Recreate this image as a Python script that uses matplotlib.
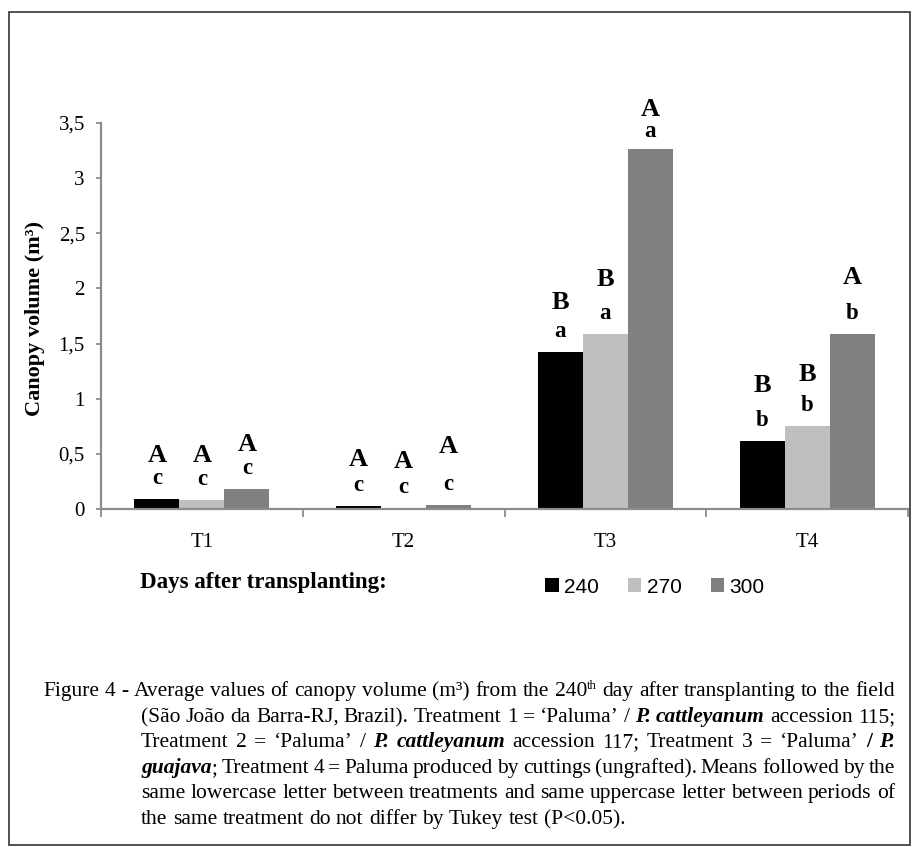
import numpy as np
import matplotlib
matplotlib.use("Agg")
import matplotlib.pyplot as plt
from matplotlib.patches import Rectangle

plt.rcParams['font.family'] = ['Liberation Serif', 'DejaVu Serif']

treatments = ["T1", "T2", "T3", "T4"]
days = ["240", "270", "300"]
vol_240 = [0.09, 0.03, 1.42, 0.62]
vol_270 = [0.08, 0.01, 1.59, 0.75]
vol_300 = [0.18, 0.04, 3.26, 1.59]
upper_240 = ["A", "A", "B", "B"]
upper_270 = ["A", "A", "B", "B"]
upper_300 = ["A", "A", "A", "A"]
lower_240 = ["c", "c", "a", "b"]
lower_270 = ["c", "c", "a", "b"]
lower_300 = ["c", "c", "a", "b"]
colors = ["#000000", "#bfbfbf", "#808080"]

# how far (px) the uppercase letter sits above each bar top
up_off_240 = [44, 46, 50, 55]
up_off_270 = [45, 46, 54, 52]
up_off_300 = [45, 58, 40, 56]

# caption: (text, style) segments per line; n=normal, bi=bold italic, b=bold, sup=superscript
caption = [
    [("Figure 4 - Average values of canopy volume (m³) from the 240", "n"), ("th", "sup"),
     (" day after transplanting to the field", "n")],
    [("(São João da Barra-RJ, Brazil). Treatment 1 = ‘Paluma’ / ", "n"), ("P. cattleyanum", "bi"),
     (" accession 115;", "n")],
    [("Treatment 2 = ‘Paluma’ / ", "n"), ("P. cattleyanum", "bi"),
     (" accession 117; Treatment 3 = ‘Paluma’ ", "n"), ("/", "b"), (" ", "n"), ("P.", "bi")],
    [("guajava", "bi"), ("; Treatment 4 = Paluma produced by cuttings (ungrafted). Means followed by the", "n")],
    [("same lowercase letter between treatments and same uppercase letter between periods of", "n")],
    [("the same treatment do not differ by Tukey test (P<0.05).", "n")],
]

W, H = 914, 847
fig = plt.figure(figsize=(W / 100, H / 100), dpi=100)


def fx(px):
    return px / W


def fy(py):
    return 1 - py / H


fig.patches.append(Rectangle((fx(9), fy(845)), fx(910) - fx(9), fy(12) - fy(845),
                             transform=fig.transFigure, fill=False, edgecolor="#333333", lw=1.2))

gray = "#8c8c8c"
ax = fig.add_axes([fx(101), fy(509), fx(908) - fx(101), fy(123) - fy(509)])

x = np.arange(len(treatments))
bw = 0.223
series = [vol_240, vol_270, vol_300]
uppers = [upper_240, upper_270, upper_300]
lowers = [lower_240, lower_270, lower_300]
up_offs = [up_off_240, up_off_270, up_off_300]
handles = []
for i in range(3):
    pos = x + (i - 1) * bw
    b = ax.bar(pos, series[i], bw, color=colors[i], label=days[i])
    handles.append(b)
    for xp, v, up, lo, uo in zip(pos, series[i], uppers[i], lowers[i], up_offs[i]):
        lo_off = 17.5 if uo < 42 else 20.5
        ax.annotate(lo, (xp, v), xytext=(0, lo_off * 0.72), textcoords='offset points', ha='center',
                    va='center', fontsize=16.5, fontweight='bold', annotation_clip=False)
        ax.annotate(up, (xp, v), xytext=(0, uo * 0.72), textcoords='offset points', ha='center',
                    va='center', fontsize=19, fontweight='bold', annotation_clip=False)

ax.set_xlim(-0.5, 3.5)
ax.set_ylim(0, 3.5)
yt = np.arange(0, 3.51, 0.5)
ax.set_yticks(yt)
ax.set_yticklabels([f"{t:g}".replace(".", ",") for t in yt])
ax.set_xticks(np.arange(-0.5, 3.6, 1))
ax.set_xticklabels([])
ax.set_xticks(x, minor=True)
ax.set_xticklabels(treatments, minor=True)
ax.tick_params(axis='x', which='minor', length=0, pad=17, labelsize=15)
ax.tick_params(axis='x', which='major', length=6, width=1.3, color=gray, direction='out')
ax.tick_params(axis='y', length=3.6, width=1.3, color=gray, pad=8, labelsize=15)
for s in ["top", "right"]:
    ax.spines[s].set_visible(False)
for s in ["left", "bottom"]:
    ax.spines[s].set_color(gray)
    ax.spines[s].set_linewidth(1.6)

fig.text(fx(35), fy(319), "Canopy volume (m³)", rotation=90, ha='center', va='center',
         fontsize=16, fontweight='bold')
fig.text(fx(140), fy(582), "Days after transplanting:", ha='left', va='center',
         fontsize=16.5, fontweight='bold')
fig.legend(handles, days, loc='center left', bbox_to_anchor=(fx(545), fy(587)), ncol=3,
           frameon=False, prop={'family': 'Liberation Sans', 'size': 15},
           handlelength=0.65, handleheight=0.65, handletextpad=0.25, columnspacing=1.4,
           borderpad=0, borderaxespad=0)

# justified caption
renderer = fig.canvas.get_renderer()
cap_size = 15.5
em = cap_size / 72 * 100


def split_words(segs):
    words = []
    new_word = True
    for text, style in segs:
        parts = text.split(" ")
        for i, p in enumerate(parts):
            if i > 0:
                new_word = True
            if p == "":
                continue
            if new_word or not words:
                words.append([])
                new_word = False
            words[-1].append((p, style))
    return words


def draw_word(word):
    items = []
    total = 0
    for text, style in word:
        kw = dict(fontsize=cap_size, va='baseline', ha='left')
        if style == "bi":
            kw.update(fontweight='bold', fontstyle='italic')
        elif style == "b":
            kw.update(fontweight='bold')
        elif style == "sup":
            kw.update(fontsize=cap_size * 0.6)
        t = fig.text(0, 0, text, **kw)
        w = t.get_window_extent(renderer).width
        items.append((t, total, style))
        total += w
    return items, total


line_y = [690, 716, 741, 767, 792, 818]
for k, segs in enumerate(caption):
    x0 = 43 if k == 0 else 141
    x1 = 895
    words = split_words(segs)
    drawn = [draw_word(w) for w in words]
    widths = sum(d[1] for d in drawn)
    if k == len(caption) - 1:
        gap = 0.25 * em
    else:
        gap = (x1 - x0 - widths) / (len(words) - 1)
    cx = x0
    base = line_y[k] + 6
    for items, wtot in drawn:
        for t, off, style in items:
            yy = base - (7 if style == "sup" else 0)
            t.set_position((fx(cx + off), fy(yy)))
        cx += wtot + gap

fig.savefig("out.png", dpi=100)
